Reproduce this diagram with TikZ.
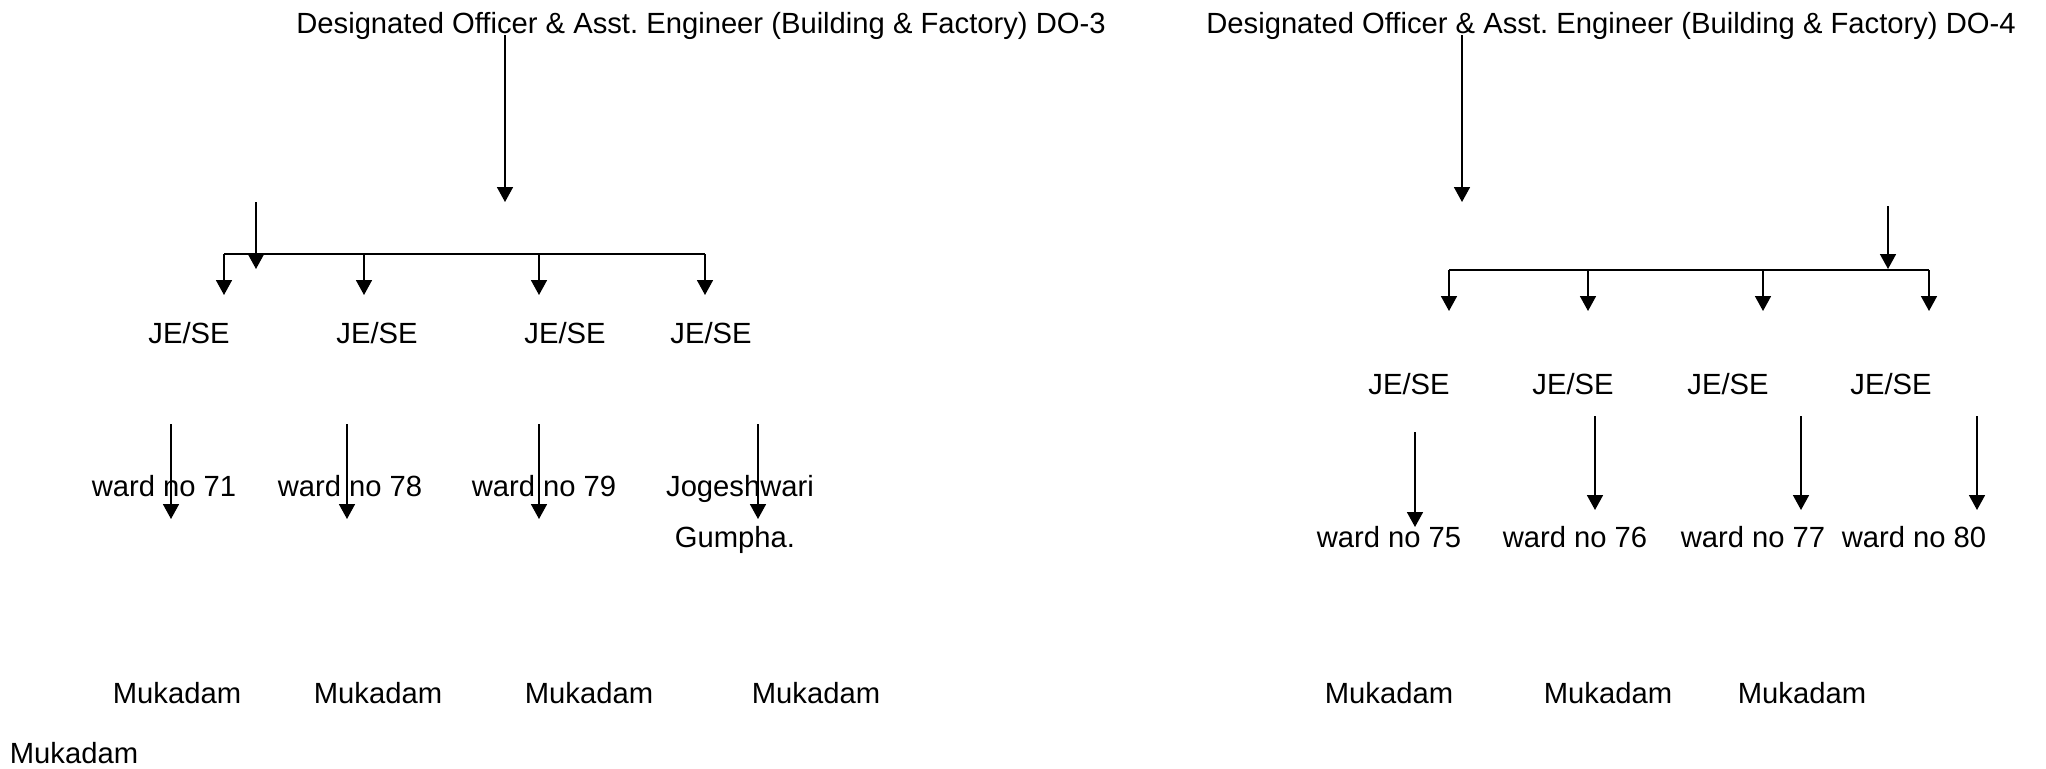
\documentclass[tikz,border=0pt]{standalone}
\usepackage{fontspec}
\setmainfont{Liberation Sans}
\usetikzlibrary{arrows.meta}
\tikzset{
  lbl/.style={inner sep=0pt, anchor=base, font=\fontsize{14.6}{17}\selectfont},
  down/.style={-{Triangle[length=7.5pt, width=8pt]}, line width=0.85pt},
  bar/.style={line width=1pt},
}
\begin{document}
\begin{tikzpicture}[x=0.5pt, y=-0.5pt]
  \useasboundingbox (0,0) rectangle (2046,768);
  % DO-3
  \node[lbl] (do3) at (701,33) {Designated Officer \& Asst.\ Engineer (Building \& Factory) DO-3};
  \coordinate (d3top) at (505,35); \coordinate (d3tip) at (505,202);
  \draw[down] (d3top) -- (d3tip);
  \coordinate (s3top) at (256,202); \coordinate (s3tip) at (256,269);
  \draw[down] (s3top) -- (s3tip);
  \coordinate (bar3l) at (224,254); \coordinate (bar3r) at (705,254);
  \draw[bar] (bar3l) -- (bar3r);
  \coordinate (ja1) at (224,295); \coordinate (ja2) at (364,295);
  \coordinate (ja3) at (539,295); \coordinate (ja4) at (705,295);
  \draw[down] (ja1 |- bar3l) -- (ja1); \draw[down] (ja2 |- bar3l) -- (ja2);
  \draw[down] (ja3 |- bar3l) -- (ja3); \draw[down] (ja4 |- bar3l) -- (ja4);
  \node[lbl] (je1) at (189,343) {JE/SE};
  \node[lbl] (je2) at (377,343) {JE/SE};
  \node[lbl] (je3) at (565,343) {JE/SE};
  \node[lbl] (je4) at (711,343) {JE/SE};
  \coordinate (wa1) at (171,519); \coordinate (wa2) at (347,519);
  \coordinate (wa3) at (539,519); \coordinate (wa4) at (758,519);
  \draw[down] (171,424) -- (wa1); \draw[down] (347,424) -- (wa2);
  \draw[down] (539,424) -- (wa3); \draw[down] (758,424) -- (wa4);
  \node[lbl] (w71) at (164,496) {ward no 71};
  \node[lbl] (w78) at (350,496) {ward no 78};
  \node[lbl] (w79) at (544,496) {ward no 79};
  \node[lbl] (wjog) at (740,496) {Jogeshwari};
  \node[lbl] (wgum) at (735,547) {Gumpha.};
  \node[lbl] (mk1) at (177,703) {Mukadam};
  \node[lbl] (mk2) at (378,703) {Mukadam};
  \node[lbl] (mk3) at (589,703) {Mukadam};
  \node[lbl] (mk4) at (816,703) {Mukadam};
  \node[lbl] (mk0) at (74,763) {Mukadam};
  % DO-4
  \node[lbl] (do4) at (1611,33) {Designated Officer \& Asst.\ Engineer (Building \& Factory) DO-4};
  \coordinate (d4top) at (1462,35); \coordinate (d4tip) at (1462,202);
  \draw[down] (d4top) -- (d4tip);
  \coordinate (s4top) at (1888,206); \coordinate (s4tip) at (1888,269);
  \draw[down] (s4top) -- (s4tip);
  \coordinate (bar4l) at (1449,270); \coordinate (bar4r) at (1929,270);
  \draw[bar] (bar4l) -- (bar4r);
  \coordinate (jb1) at (1449,311); \coordinate (jb2) at (1588,311);
  \coordinate (jb3) at (1763,311); \coordinate (jb4) at (1929,311);
  \draw[down] (jb1 |- bar4l) -- (jb1); \draw[down] (jb2 |- bar4l) -- (jb2);
  \draw[down] (jb3 |- bar4l) -- (jb3); \draw[down] (jb4 |- bar4l) -- (jb4);
  \node[lbl] (je5) at (1409,394) {JE/SE};
  \node[lbl] (je6) at (1573,394) {JE/SE};
  \node[lbl] (je7) at (1728,394) {JE/SE};
  \node[lbl] (je8) at (1891,394) {JE/SE};
  \coordinate (wb1) at (1415,527); \coordinate (wb2) at (1595,510);
  \coordinate (wb3) at (1801,510); \coordinate (wb4) at (1977,510);
  \draw[down] (1415,432) -- (wb1); \draw[down] (1595,416) -- (wb2);
  \draw[down] (1801,416) -- (wb3); \draw[down] (1977,416) -- (wb4);
  \node[lbl] (w75) at (1389,547) {ward no 75};
  \node[lbl] (w76) at (1575,547) {ward no 76};
  \node[lbl] (w77) at (1753,547) {ward no 77};
  \node[lbl] (w80) at (1914,547) {ward no 80};
  \node[lbl] (mk5) at (1389,703) {Mukadam};
  \node[lbl] (mk6) at (1608,703) {Mukadam};
  \node[lbl] (mk7) at (1802,703) {Mukadam};
\end{tikzpicture}
\end{document}
